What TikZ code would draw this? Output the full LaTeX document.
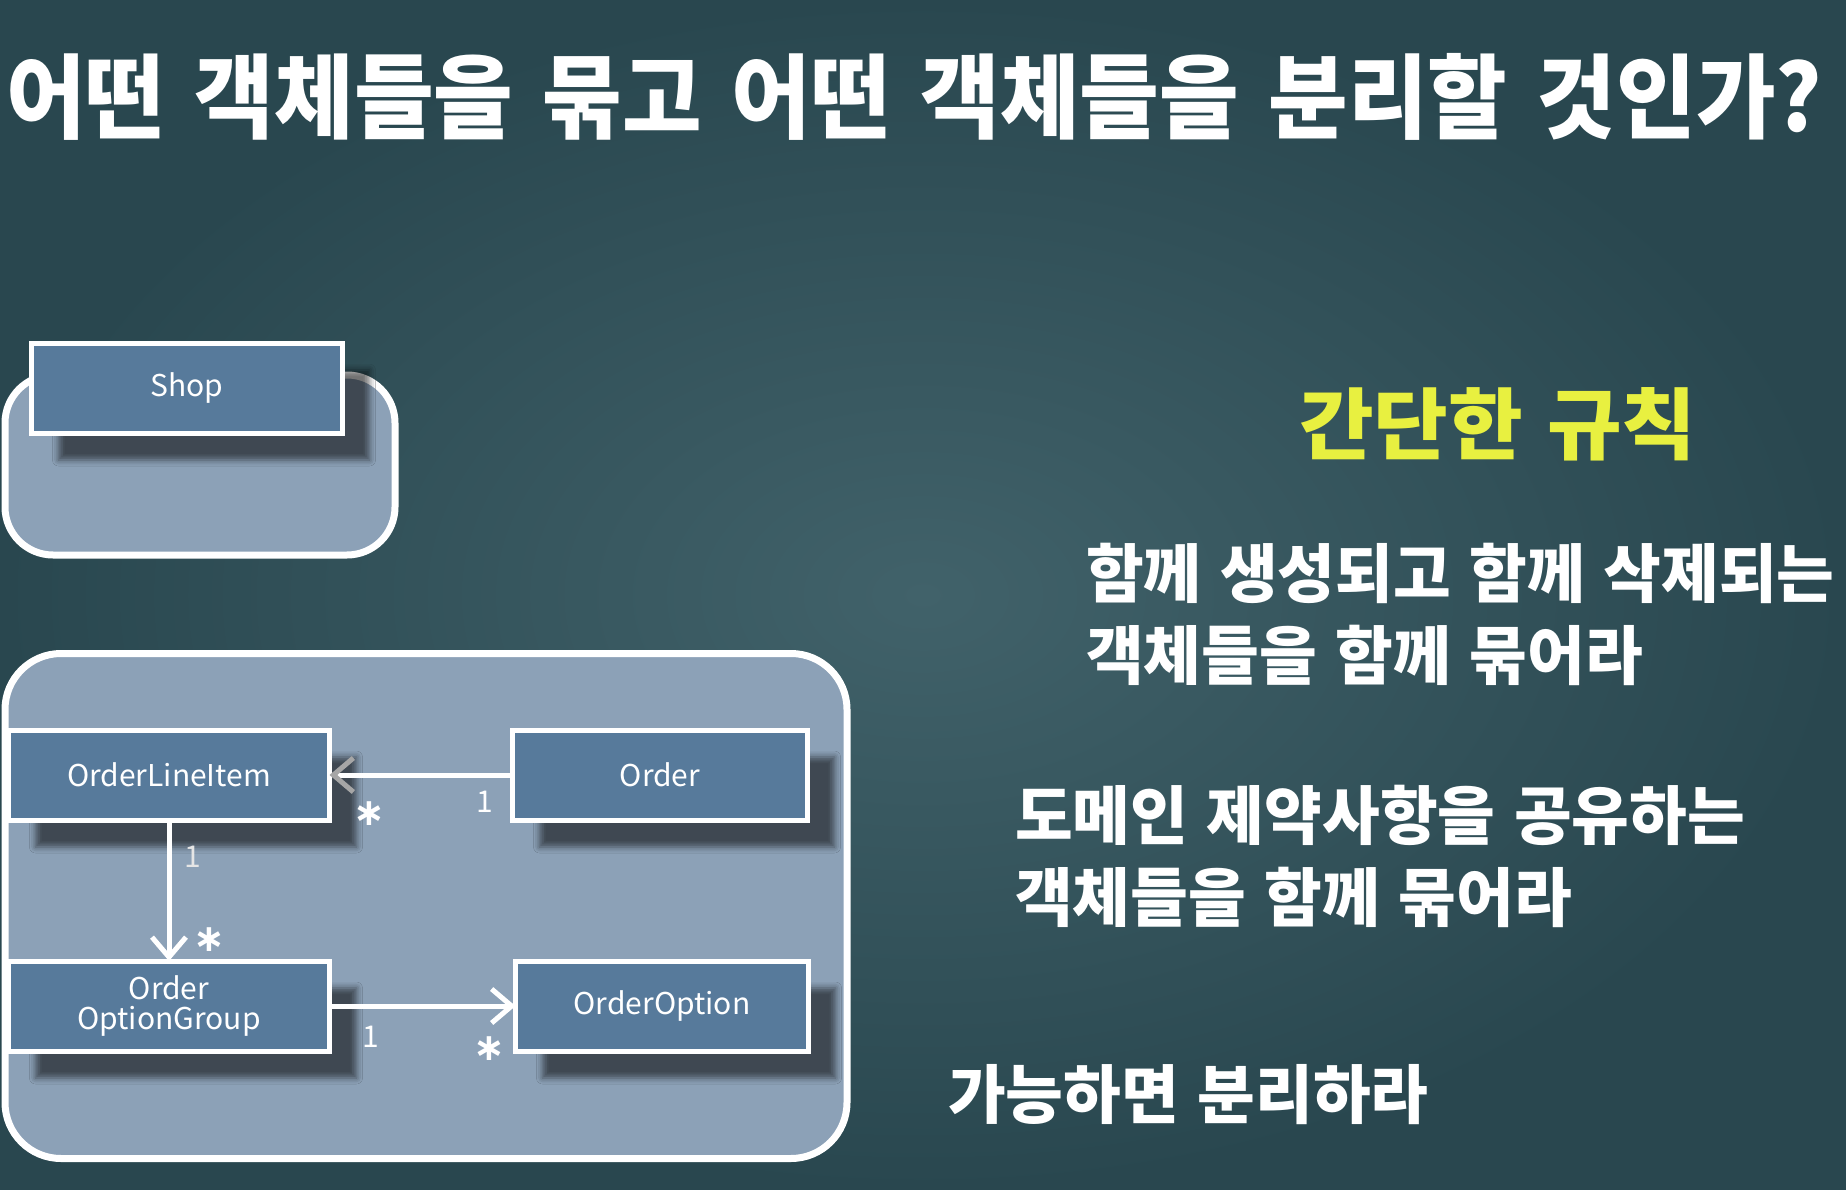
\documentclass[tikz,border=0pt]{standalone}
\usepackage{fontspec}
\setmainfont{Noto Sans CJK KR}
\newfontfamily\headfont{Noto Sans CJK KR}[FakeStretch=0.94, WordSpace=1.5]
\newfontfamily\keyfont{Noto Sans CJK KR}[FakeStretch=1.04, WordSpace=1.3]
\newfontfamily\rulefont{Noto Sans CJK KR}[FakeStretch=0.98, WordSpace=1.3]
\newfontfamily\symfont{DejaVu Sans}
\usetikzlibrary{positioning, arrows.meta, shadows.blur}

\definecolor{boardbg}{HTML}{29474F}
\definecolor{boardlight}{HTML}{41626A}
\definecolor{groupfill}{HTML}{8CA1B7}
\definecolor{classfill}{HTML}{577A9B}
\definecolor{ruleyellow}{HTML}{E8F040}

\tikzstyle{groupbox} = [rectangle, rounded corners=48pt, draw=white, line width=7pt,
    fill=groupfill, inner sep=0pt]
\tikzstyle{classbox} = [rectangle, draw=white, line width=5pt, fill=classfill, text=white,
    font=\fontsize{30}{34}\selectfont, align=center, minimum height=90pt, outer sep=0pt,
    blur shadow={shadow xshift=27pt, shadow yshift=-27pt, shadow opacity=55, shadow blur radius=6pt}]
\tikzstyle{mult} = [text=white, font=\fontsize{30}{32}\selectfont, inner sep=0pt]
\tikzstyle{many} = [text=white, font=\symfont\bfseries\fontsize{38}{40}\selectfont, inner sep=0pt]
\tikzstyle{arrow} = [white, line width=5pt, -{Straight Barb[length=20pt, width=34pt]}]
\tikzstyle{title} = [text=white, font=\headfont\bfseries\fontsize{92}{100}\selectfont,
    anchor=west, inner sep=0pt]
\tikzstyle{rule} = [text=white, font=\rulefont\bfseries\fontsize{64}{82}\selectfont,
    align=left, anchor=west, inner sep=0pt]

\begin{document}
\begin{tikzpicture}[x=1pt, y=-1pt]
    \useasboundingbox (0,0) rectangle (1846,1190);
    \shade [inner color=boardlight, outer color=boardbg] (0,0) rectangle (1846,1190);

    % title nodes
    \node (Title) [title] at (6,97) {어떤 객체들을 묶고 어떤 객체들을 분리할 것인가?};
    \node (RuleHead) [title, text=ruleyellow, font=\keyfont\bfseries\fontsize{78}{90}\selectfont] at (1299,424) {간단한 규칙};

    % rule nodes
    \node (RuleOne) [rule] at (1086,614) {함께 생성되고 함께 삭제되는\\객체들을 함께 묶어라};
    \node (RuleTwo) [rule] at (1015,856) {도메인 제약사항을 공유하는\\객체들을 함께 묶어라};
    \node (RuleThree) [rule] at (948,1095) {가능하면 분리하라};

    % group nodes
    \node (ShopGroup) [groupbox, minimum width=390pt, minimum height=180pt] at (200,465) {};
    \node (OrderGroup) [groupbox, rounded corners=56pt, minimum width=842pt, minimum height=505pt] at (426,906) {};

    % class nodes
    \node (Shop) [classbox, minimum width=311pt] at (187,388) {Shop};
    \node (OrderLineItem) [classbox, minimum width=321pt] at (169,775) {OrderLineItem};
    \node (Order) [classbox, minimum width=295pt, right=183pt of OrderLineItem] {Order};
    \node (OrderOptionGroup) [classbox, minimum width=321pt, below=141pt of OrderLineItem] {Order\\[-4pt]OptionGroup};
    \node (OrderOption) [classbox, minimum width=293pt, right=186pt of OrderOptionGroup] {OrderOption};

    % arrows
    \draw [arrow, -{Straight Barb[length=20pt, width=34pt, color=gray!70!white]}] (Order) -- node [mult, pos=0.15, below=14pt] {1} node [many, pos=0.78, below=24pt] {∗} (OrderLineItem);
    \draw [arrow] (OrderLineItem) -- node [mult, pos=0.26, right=13pt, text=white!80!gray] {1} node [many, pos=0.85, right=22pt] {∗} (OrderOptionGroup);
    \draw [arrow] (OrderOptionGroup) -- node [mult, pos=0.22, below=18pt] {1} node [many, pos=0.86, below=28pt] {∗} (OrderOption);
\end{tikzpicture}
\end{document}
